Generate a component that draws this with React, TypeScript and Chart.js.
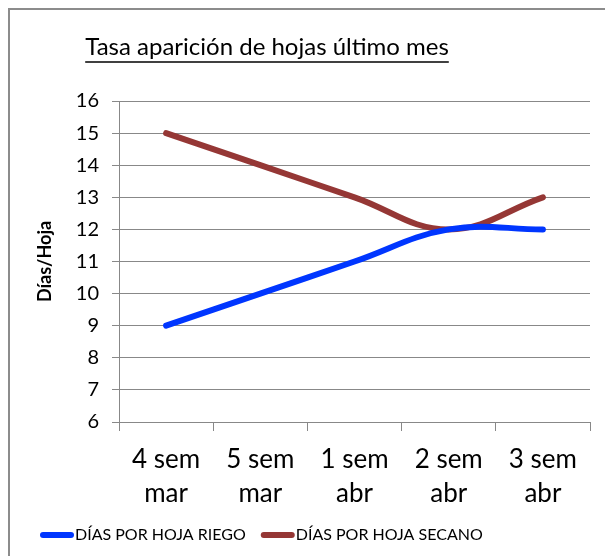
import React, { useEffect, useRef } from "react";
import { Chart, registerables } from "chart.js";
Chart.register(...registerables);

const categories = [["4 sem", "mar"], ["5 sem", "mar"], ["1 sem", "abr"], ["2 sem", "abr"], ["3 sem", "abr"]];
const riego = [9, 10, 11, 12, 12];
const secano = [15, 14, 13, 12, 13];
const seriesNames = ["DÍAS POR HOJA RIEGO", "DÍAS POR HOJA SECANO"];
const titleText = "Tasa aparición de hojas último mes";
const yTitle = "Días/Hoja";
const yMin = 6;
const yMax = 16;
const yStep = 1;

const FONT = "Lato, 'Open Sans', sans-serif";
const GRID = "#888888";

const titlePlugin = {
  id: "underlinedTitle",
  afterDraw(chart: any) {
    const ctx = chart.ctx;
    ctx.save();
    ctx.font = `24px ${FONT}`;
    ctx.fillStyle = "#000";
    ctx.textAlign = "center";
    ctx.textBaseline = "alphabetic";
    const x = 257;
    const y = 45;
    ctx.fillText(titleText, x, y);
    const w = ctx.measureText(titleText).width;
    ctx.strokeStyle = "#000";
    ctx.lineWidth = 1.5;
    ctx.beginPath();
    ctx.moveTo(x - w / 2, y + 7);
    ctx.lineTo(x + w / 2, y + 7);
    ctx.stroke();
    ctx.restore();
  },
};

const legendPlugin = {
  id: "customLegend",
  afterDraw(chart: any) {
    const ctx = chart.ctx;
    ctx.save();
    ctx.font = `16px ${FONT}`;
    ctx.textBaseline = "middle";
    ctx.textAlign = "left";
    const y = 525;
    let x = 30;
    chart.data.datasets.forEach((ds: any) => {
      ctx.strokeStyle = ds.borderColor;
      ctx.lineWidth = 6;
      ctx.lineCap = "round";
      ctx.beginPath();
      ctx.moveTo(x + 3, y);
      ctx.lineTo(x + 31, y);
      ctx.stroke();
      ctx.fillStyle = "#000";
      ctx.fillText(ds.label, x + 35, y);
      x += 35 + ctx.measureText(ds.label).width + 15;
    });
    ctx.restore();
  },
};

export default function App() {
  const ref = useRef<HTMLCanvasElement>(null);
  useEffect(() => {
    if (!ref.current) return;
    const chart = new Chart(ref.current, {
      type: "line",
      data: {
        labels: categories,
        datasets: [
          {
            label: seriesNames[0],
            data: riego,
            borderColor: "#0036ff",
            backgroundColor: "#0036ff",
            borderWidth: 6,
            borderCapStyle: "round",
            tension: 0.4,
            pointRadius: 0,
            fill: false,
          },
          {
            label: seriesNames[1],
            data: secano,
            borderColor: "#953735",
            backgroundColor: "#953735",
            borderWidth: 6,
            borderCapStyle: "round",
            tension: 0.4,
            pointRadius: 0,
            fill: false,
          },
        ],
      },
      options: {
        responsive: false,
        animation: false,
        layout: { padding: { top: 91, right: 23, left: 0, bottom: 34 } },
        plugins: {
          title: { display: false },
          tooltip: { enabled: false },
          legend: { display: false },
        },
        scales: {
          x: {
            type: "category",
            offset: true,
            grid: {
              display: true,
              drawOnChartArea: false,
              drawTicks: true,
              tickLength: 9,
              color: GRID,
              offset: true,
            },
            border: { color: GRID, width: 1 },
            ticks: {
              color: "#000",
              font: { family: FONT, size: 26, lineHeight: 1.3 },
              padding: 12,
              maxRotation: 0,
              autoSkip: false,
            },
            afterFit(s: any) {
              s.height = 100;
            },
          },
          y: {
            min: yMin,
            max: yMax,
            ticks: {
              stepSize: yStep,
              color: "#000",
              font: { family: FONT, size: 20 },
              padding: 13,
            },
            grid: { color: GRID, tickLength: 7, drawTicks: true },
            border: { color: GRID, width: 1 },
            title: {
              display: true,
              text: yTitle,
              color: "#000",
              font: { family: FONT, size: 18, weight: "bold" },
              padding: { top: 24, bottom: 0 },
            },
            afterFit(s: any) {
              s.width = 109;
            },
          },
        },
      },
      plugins: [titlePlugin, legendPlugin],
    } as any);
    return () => chart.destroy();
  }, []);
  return (
    <div
      style={{
        borderTop: "2px solid #8c8c8c",
        borderLeft: "2px solid #8c8c8c",
        width: 603,
        height: 546,
        background: "#fff",
      }}
    >
      <canvas ref={ref} width={603} height={546} style={{ display: "block" }} />
    </div>
  );
}
